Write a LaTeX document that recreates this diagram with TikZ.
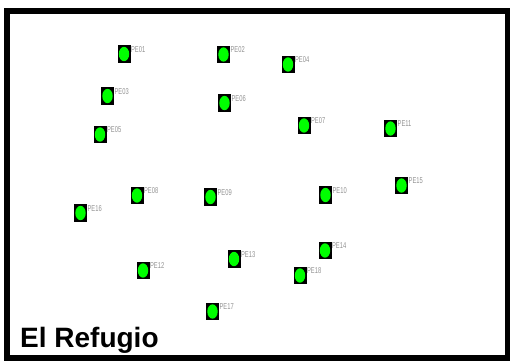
\documentclass[tikz,border=0pt]{standalone}
\usepackage{fontspec}
\setmainfont{Liberation Sans}
\begin{document}
\begin{tikzpicture}[x=1pt,y=-1pt,
  pebox/.style={fill=black, minimum width=13pt, minimum height=17.5pt, inner sep=0pt, outer sep=0pt},
  pelabel/.style={anchor=north west, inner sep=0pt, text=gray!85, font=\fontsize{8.5}{8.5}\selectfont, xscale=0.68}
]
\useasboundingbox (0,0) rectangle (510,361);
\fill[white] (0,0) rectangle (510,361);
\draw[line width=6pt] (7,11.5) rectangle (507.5,358);
\foreach \n/\x/\y in {PE01/124/54, PE02/223.5/54.5, PE04/288/64.5, PE03/107.5/96,
  PE06/224.5/103, PE05/100/134.5, PE07/304/125.5, PE11/390.5/128.5,
  PE08/137/195.5, PE09/210.5/197, PE10/325.5/195, PE15/401.5/185.5,
  PE16/80.5/213, PE14/325/250.5, PE13/234/259, PE12/143/270.5,
  PE18/300/275.5, PE17/212.5/311.5}{
  \node[pebox] (\n) at (\x,\y) {};
  \fill[green] (\x,\y) ellipse [x radius=5.2pt, y radius=7.2pt];
  \node[pelabel] (l\n) at ([xshift=0.5pt,yshift=-1pt]\n.north east) {\n};
}
\node[anchor=base west, inner sep=0pt, font=\fontsize{28}{28}\selectfont\bfseries] (title) at (20,347) {El Refugio};
\end{tikzpicture}
\end{document}
